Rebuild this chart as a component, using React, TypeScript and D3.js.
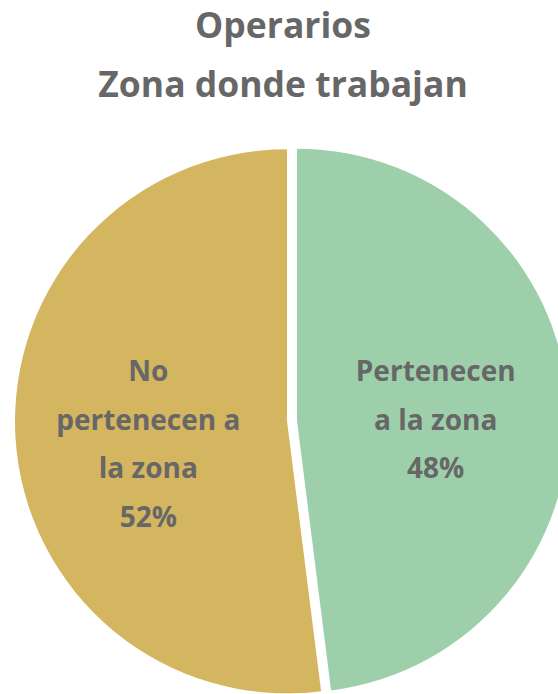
import React from "react";
import * as d3 from "d3";

const titleLines = ["Operarios", "Zona donde trabajan"];
const categories = ["Pertenecen a la zona", "No pertenecen a la zona"];
const values = [48, 52];
const labelLines = [
  ["Pertenecen", "a la zona", "48%"],
  ["No", "pertenecen a", "la zona", "52%"],
];
const colors = ["#9DD0AA", "#D4B560"];

const W = 558;
const H = 694;
const cx = 292;
const cy = 421;
const R = 272;
const explode = 5;
const FONT = "'Open Sans', 'Noto Sans', sans-serif";
const TEXT = "#676767";

export default function App() {
  const pie = d3.pie<number>().sort(null).value((d) => d);
  const arcs = pie(values);
  const arc = d3.arc<d3.PieArcDatum<number>>().innerRadius(0).outerRadius(R);
  const labelArc = d3.arc<d3.PieArcDatum<number>>().innerRadius(278).outerRadius(0);
  return (
    <svg width={W} height={H} style={{ position: "absolute", left: 0, top: 0 }}>
      {titleLines.map((t, i) => (
        <text key={i} x={283} y={38 + i * 59} textAnchor="middle" fontFamily={FONT} fontWeight={700} fontSize={35.5} fill={TEXT}>
          {t}
        </text>
      ))}
      {arcs.map((a, i) => {
        const mid = (a.startAngle + a.endAngle) / 2;
        const ox = Math.sin(mid) * explode;
        const oy = -Math.cos(mid) * explode;
        const [lx] = labelArc.centroid(a);
        const lines = labelLines[i];
        const spacing = 48.6;
        const startY = -40 - oy;
        return (
          <g key={categories[i]} transform={`translate(${cx + ox},${cy + oy})`}>
            <path d={arc(a) || ""} fill={colors[i]} />
            {lines.map((l, j) => (
              <text key={j} x={lx} y={startY + j * spacing} textAnchor="middle" fontFamily={FONT} fontWeight={700} fontSize={28} fill={TEXT}>
                {l}
              </text>
            ))}
          </g>
        );
      })}
    </svg>
  );
}
